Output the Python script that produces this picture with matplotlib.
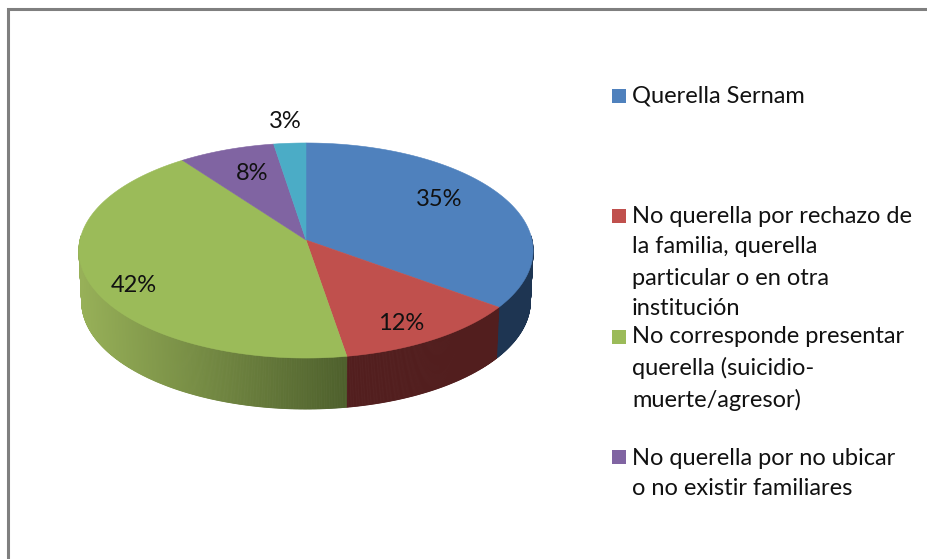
import numpy as np
import matplotlib
matplotlib.use("Agg")
import matplotlib.pyplot as plt
from matplotlib.patches import Rectangle
from matplotlib.colors import to_rgb

categories = ["Querella Sernam",
              "No querella por rechazo de la familia, querella particular o en otra institución",
              "No corresponde presentar querella (suicidio-muerte/agresor)",
              "No querella por no ubicar o no existir familiares",
              "Otros"]
values = [35.0, 12.2, 42.4, 7.5, 2.5]
pct_labels = ["35%", "12%", "42%", "8%", "3%"]
colors = ["#4F81BD", "#C0504D", "#9BBB59", "#8064A2", "#4BACC6"]
side_left = ["#1E3552", "#561F1E", "#97B058", "#4E3C66", "#2C6F82"]
side_right = ["#1E3552", "#4E1D1D", "#4E602C", "#4E3C66", "#2C6F82"]

legend_lines = [["Querella Sernam"],
                ["No querella por rechazo de", "la familia, querella",
                 "particular o en otra", "institución"],
                ["No corresponde presentar", "querella (suicidio-",
                 "muerte/agresor)"],
                ["No querella por no ubicar", "o no existir familiares"]]
legend_baselines = [[103], [223, 253, 285, 315], [343, 375, 407], [465, 495]]
legend_square_tops = [89, 209, 330, 450]
label_pos = [(439, 199), (401, 323), (134, 285), (252, 174), (285, 122)]

W, H = 927, 559
fig = plt.figure(figsize=(W / 100, H / 100), dpi=100, facecolor="white")
ax = fig.add_axes([0, 0, 1, 1])
ax.set_xlim(0, W)
ax.set_ylim(H, 0)
ax.axis("off")
font = "Lato"

CX, CY, RX, B, K, DEPTH = 306, 240, 226, 106.5, 0.0977, 51


def proj(theta, depth=0.0):
    u, v = np.cos(theta), np.sin(theta)
    w = 1 + K * v
    shrink = 1 - 0.012 * (depth > 0)
    return CX + RX * shrink * u / w, CY - B * v / w + depth


fractions = np.array(values) / sum(values)
edges = np.pi / 2 - 2 * np.pi * np.concatenate([[0], np.cumsum(fractions)])

# side wall: thin vertical strips over the visible (front) part of the rim
for i in range(len(values)):
    hi, lo = edges[i], edges[i + 1]
    ts = np.linspace(hi, lo, max(3, int((hi - lo) * 200)))
    for t0, t1 in zip(ts[:-1], ts[1:]):
        if np.sin(t0) > 0.04 and np.sin(t1) > 0.04:
            continue
        x0, y0 = proj(t0)
        x1, y1 = proj(t1)
        x2, y2 = proj(t1, DEPTH)
        x3, y3 = proj(t0, DEPTH)
        if i == 2:
            f = np.clip((x0 - 80) / (345 - 80), 0, 1)
        else:
            f = 0.5
        c = (1 - f) * np.array(to_rgb(side_left[i])) + f * np.array(to_rgb(side_right[i]))
        ax.fill([x0, x1, x2, x3], [y0, y1, y2, y3], color=c, lw=0.6, zorder=2)

# top surface
for i, col in enumerate(colors):
    ts = np.linspace(edges[i], edges[i + 1], 200)
    xs, ys = proj(ts)
    ax.fill(np.r_[CX, xs], np.r_[CY, ys], color=col, lw=0.4, zorder=3)

for s, (x, y) in zip(pct_labels, label_pos):
    ax.text(x, y, s, ha="center", va="center", fontsize=17, family=font,
            color="#111111", zorder=5)

for i, lines in enumerate(legend_lines):
    ax.add_patch(Rectangle((612, legend_square_tops[i]), 14, 14, color=colors[i], lw=0))
    for line, yb in zip(lines, legend_baselines[i]):
        ax.text(632, yb, line, ha="left", va="baseline", fontsize=17, family=font,
                color="#111111")

# outer frame
frame = "#7F7F7F"
ax.plot([8.5, 8.5, W + 5], [H + 5, 8.5, 8.5], color=frame, lw=2.2, solid_joinstyle="miter")

fig.savefig("out.png", dpi=100, facecolor="white")
